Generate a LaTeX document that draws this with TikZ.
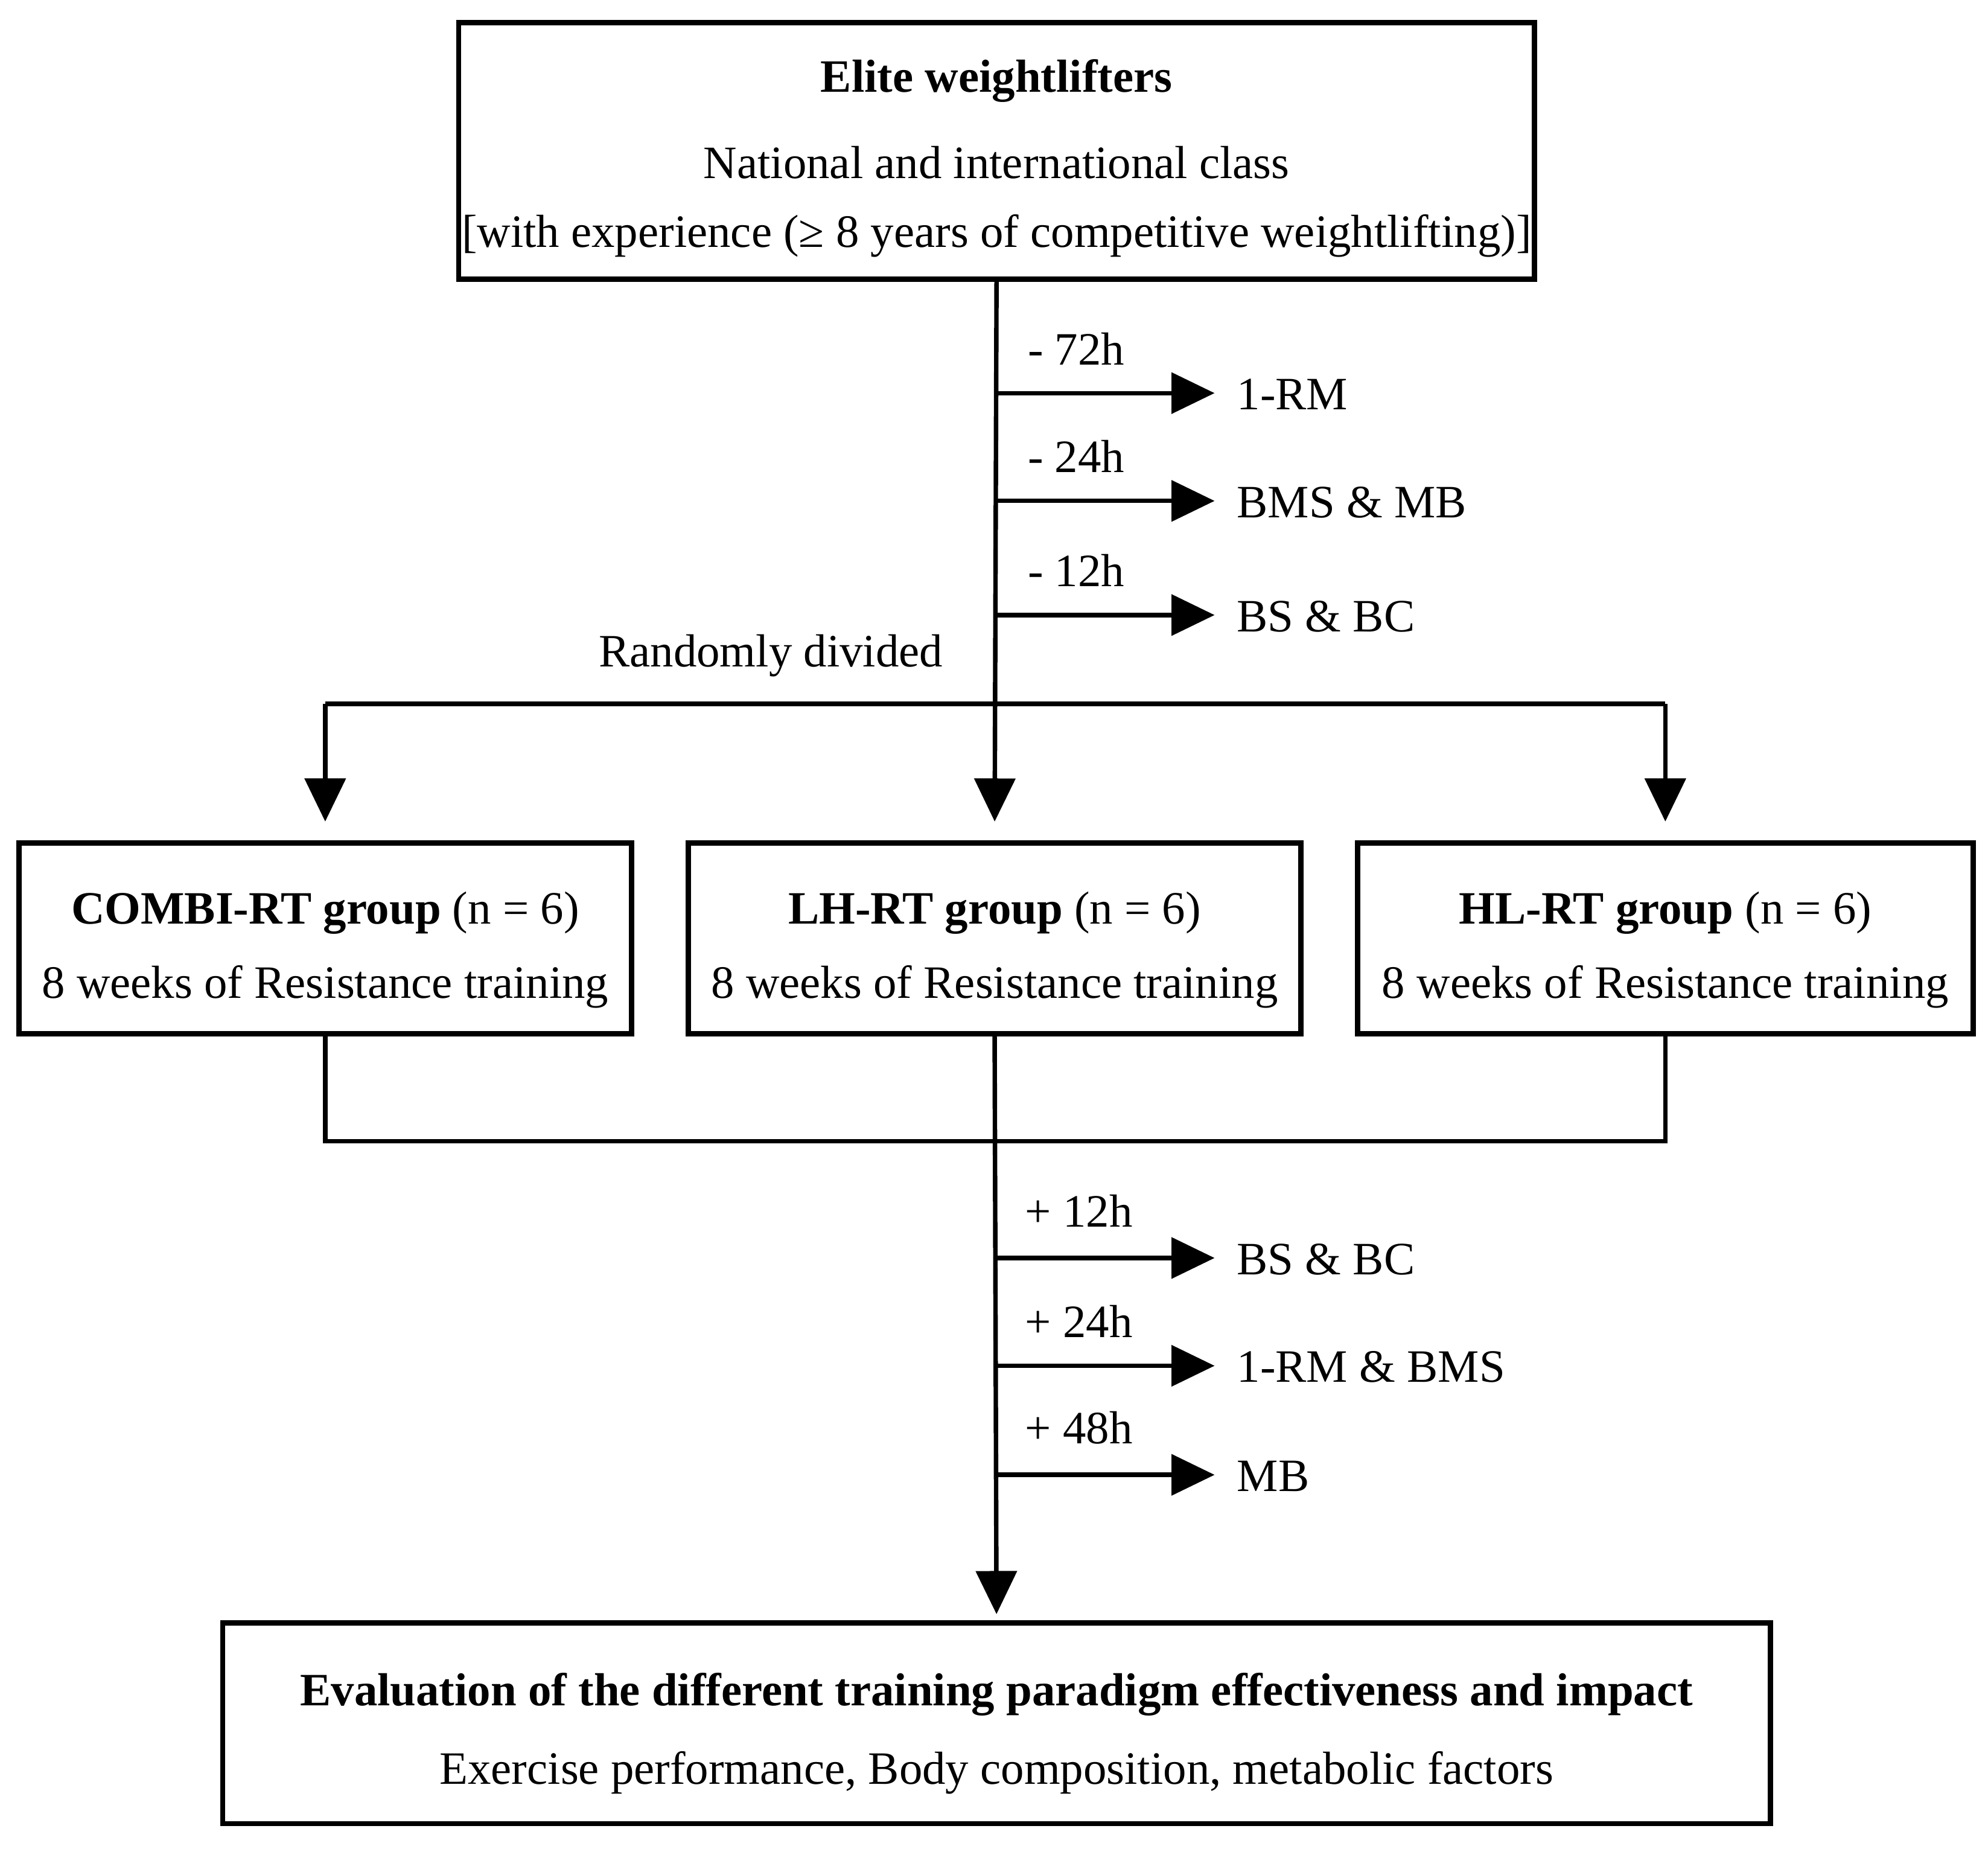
\documentclass[tikz,border=0pt]{standalone}
\usepackage{fontspec}
\setmainfont{Liberation Serif}
\usetikzlibrary{arrows.meta,positioning}

\tikzset{
  box/.style={draw, line width=1.2pt, inner sep=0pt},
  boxtext/.style={align=center, inner sep=0pt},
  link/.style={line width=1pt},
  flow/.style={line width=1pt, -{Triangle[length=0.34cm,width=0.32cm]}},
  tlabel/.style={anchor=west, inner sep=0pt},
  meas/.style={anchor=west, inner ysep=0pt, inner xsep=0.17cm}
}

\begin{document}
\begin{tikzpicture}[x=0.01cm, y=-0.01cm, font=\fontsize{10.4}{12.4}\selectfont]
  \useasboundingbox (0,0) rectangle (1568,1458);
  % top
  \node[box, minimum width=8.48cm, minimum height=2.02cm] (top) at (786,119) {};
  \node[boxtext] (toptext) at ([yshift=-0.06cm]top.center)
    {\textbf{Elite weightlifters}\\[0.24cm] National and international class\\[0.11cm]
     {[}with experience (≥ 8 years of competitive weightlifting){]}};
  % groups
  \node[box, minimum width=4.83cm, minimum height=1.5cm] (combi) at (256.5,740) {};
  \node[box, minimum width=4.83cm, minimum height=1.5cm] (lh) at (784.5,740) {};
  \node[box, minimum width=4.85cm, minimum height=1.5cm] (hl) at (1313.5,740) {};
  \node[boxtext] (combitext) at ([yshift=-0.09cm]combi.center)
    {\textbf{COMBI-RT group} (n = 6)\\[0.15cm] 8 weeks of Resistance training};
  \node[boxtext] (lhtext) at ([yshift=-0.09cm]lh.center)
    {\textbf{LH-RT group} (n = 6)\\[0.15cm] 8 weeks of Resistance training};
  \node[boxtext] (hltext) at ([yshift=-0.09cm]hl.center)
    {\textbf{HL-RT group} (n = 6)\\[0.15cm] 8 weeks of Resistance training};
  % evaluation
  \node[box, minimum width=12.2cm, minimum height=1.58cm] (eval) at (786,1359) {};
  \node[boxtext] (evaltext) at ([yshift=-0.08cm]eval.center)
    {\textbf{Evaluation of the different training paradigm effectiveness and impact}\\[0.18cm]
     Exercise performance, Body composition, metabolic factors};

  % before training
  \coordinate (s1) at (786,310);
  \coordinate (s2) at (786,395);
  \coordinate (s3) at (786,485);
  \coordinate (j1) at (786,555);
  \node[tlabel] (t1) at (810,275) {- 72h};
  \node[tlabel] (t2) at (810,360) {- 24h};
  \node[tlabel] (t3) at (810,450) {- 12h};
  \node[meas] (m1) at (958,311) {1-RM};
  \node[meas] (m2) at (958,396) {BMS \& MB};
  \node[meas] (m3) at (958,486) {BS \& BC};
  \draw[flow] (s1) -- (s1 -| m1.west);
  \draw[flow] (s2) -- (s2 -| m2.west);
  \draw[flow] (s3) -- (s3 -| m3.west);
  \node (rand) at (608,517) {Randomly divided};

  % split
  \draw[flow, shorten >=0.15cm] (top.south) -- (lh.north);
  \draw[link] (combi.north |- j1) -- (hl.north |- j1);
  \draw[flow, shorten >=0.15cm] (combi.north |- j1) -- (combi.north);
  \draw[flow, shorten >=0.15cm] (hl.north |- j1) -- (hl.north);

  % join
  \coordinate (j2) at (786,900);
  \draw[link] (combi.south) -- (combi.south |- j2) -- (hl.south |- j2) -- (hl.south);
  \draw[flow, shorten >=0.05cm] (lh.south) -- (eval.north);

  % after training
  \coordinate (p1) at (786,992);
  \coordinate (p2) at (786,1077);
  \coordinate (p3) at (786,1163);
  \node[tlabel] (u1) at (808,955) {+ 12h};
  \node[tlabel] (u2) at (808,1042) {+ 24h};
  \node[tlabel] (u3) at (808,1126) {+ 48h};
  \node[meas] (n1) at (958,993) {BS \& BC};
  \node[meas] (n2) at (958,1078) {1-RM \& BMS};
  \node[meas] (n3) at (958,1164) {MB};
  \draw[flow] (p1) -- (p1 -| n1.west);
  \draw[flow] (p2) -- (p2 -| n2.west);
  \draw[flow] (p3) -- (p3 -| n3.west);
\end{tikzpicture}
\end{document}
